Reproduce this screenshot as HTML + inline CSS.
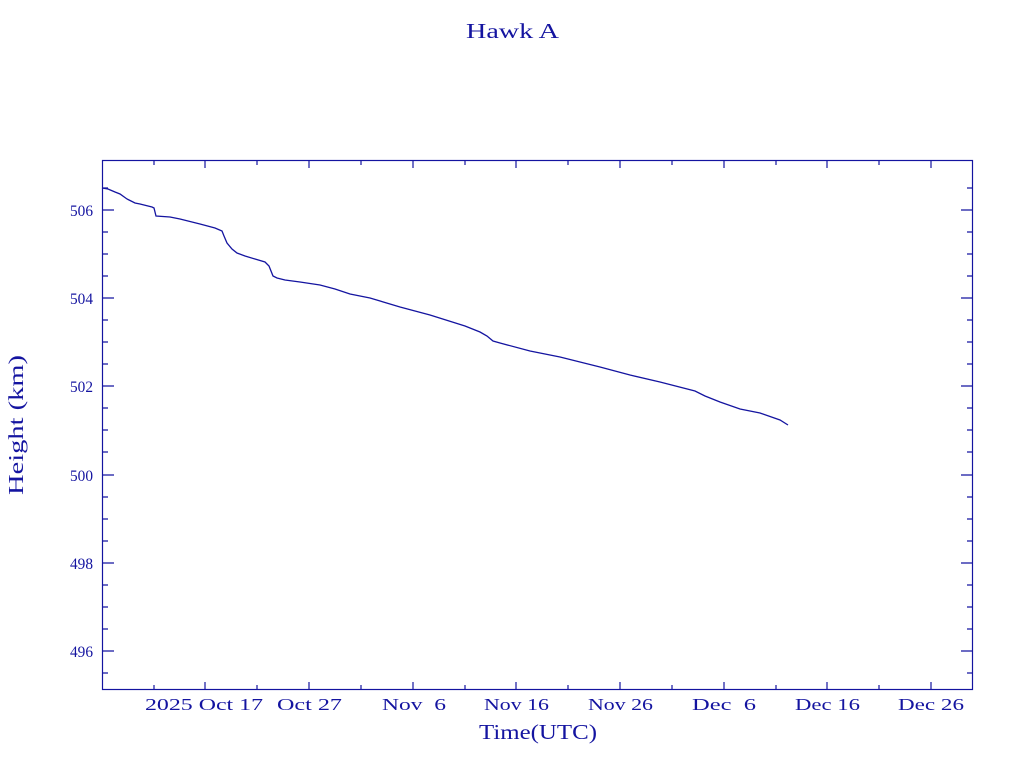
<!DOCTYPE html>
<html><head><meta charset="utf-8"><style>
html,body{margin:0;padding:0;background:#fff;}
svg text{font-family:"Liberation Serif",serif;fill:#1414a0;}
</style></head><body>
<svg width="1024" height="768" xmlns="http://www.w3.org/2000/svg">
<text x="466" y="38" font-size="21" textLength="93" lengthAdjust="spacingAndGlyphs">Hawk A</text>
<rect x="102.5" y="160.5" width="870" height="529" fill="none" stroke="#1414a0" stroke-width="1.2"/>
<g font-size="16">
<text x="70" y="216" textLength="23" lengthAdjust="spacingAndGlyphs">506</text>
<text x="70" y="304" textLength="23" lengthAdjust="spacingAndGlyphs">504</text>
<text x="70" y="392" textLength="23" lengthAdjust="spacingAndGlyphs">502</text>
<text x="70" y="481" textLength="23" lengthAdjust="spacingAndGlyphs">500</text>
<text x="70" y="569" textLength="23" lengthAdjust="spacingAndGlyphs">498</text>
<text x="70" y="657" textLength="23" lengthAdjust="spacingAndGlyphs">496</text>
</g>
<g font-size="17" lengthAdjust="spacingAndGlyphs">
<text x="145" y="710" textLength="118" lengthAdjust="spacingAndGlyphs">2025 Oct 17</text>
<text x="277" y="710" textLength="65" lengthAdjust="spacingAndGlyphs">Oct 27</text>
<text x="382" y="710" textLength="64" lengthAdjust="spacingAndGlyphs" xml:space="preserve">Nov  6</text>
<text x="484" y="710" textLength="65" lengthAdjust="spacingAndGlyphs">Nov 16</text>
<text x="588" y="710" textLength="65" lengthAdjust="spacingAndGlyphs">Nov 26</text>
<text x="692" y="710" textLength="64" lengthAdjust="spacingAndGlyphs" xml:space="preserve">Dec  6</text>
<text x="795" y="710" textLength="65" lengthAdjust="spacingAndGlyphs">Dec 16</text>
<text x="898" y="710" textLength="66" lengthAdjust="spacingAndGlyphs">Dec 26</text>
</g>
<text x="479" y="739" font-size="21" textLength="118" lengthAdjust="spacingAndGlyphs">Time(UTC)</text>
<text transform="translate(23,495) rotate(-90)" font-size="21" textLength="140" lengthAdjust="spacingAndGlyphs">Height (km)</text>
<polyline fill="none" stroke="#1414a0" stroke-width="1.3" points="102,188 108,189 115,192 120,194 127,199 135,203 140,204 152,207 154,208 156,216 170,217 180,219 200,224 215,228 222,231 224,236 227,243 232,249 237,253 245,256 255,259 265,262 269,266 273,276 277,278 285,280 300,282 320,285 335,289 350,294 370,298 400,307 430,315 465,326 480,332 487,336 493,341 500,343 530,351 560,357 600,367 630,375 660,382 695,391 705,396 720,402 740,409 760,413 780,420 788,425"/>
<g stroke="#1414a0" stroke-width="1.2">
<path d="
M154,690v-5M154,160v5
M205,690v-8M205,160v8
M257,690v-5M257,160v5
M309,690v-8M309,160v8
M361,690v-5M361,160v5
M413,690v-8M413,160v8
M465,690v-5M465,160v5
M516,690v-8M516,160v8
M568,690v-5M568,160v5
M620,690v-8M620,160v8
M672,690v-5M672,160v5
M724,690v-8M724,160v8
M776,690v-5M776,160v5
M827,690v-8M827,160v8
M879,690v-5M879,160v5
M931,690v-8M931,160v8
M102,210h12M973,210h-12
M102,298h12M973,298h-12
M102,386h12M973,386h-12
M102,475h12M973,475h-12
M102,563h12M973,563h-12
M102,651h12M973,651h-12
M102,188h6M973,188h-6
M102,232h6M973,232h-6
M102,254h6M973,254h-6
M102,276h6M973,276h-6
M102,320h6M973,320h-6
M102,342h6M973,342h-6
M102,364h6M973,364h-6
M102,408h6M973,408h-6
M102,430h6M973,430h-6
M102,452h6M973,452h-6
M102,497h6M973,497h-6
M102,519h6M973,519h-6
M102,541h6M973,541h-6
M102,585h6M973,585h-6
M102,607h6M973,607h-6
M102,629h6M973,629h-6
M102,673h6M973,673h-6
"/>
</g>
</svg>
</body></html>
